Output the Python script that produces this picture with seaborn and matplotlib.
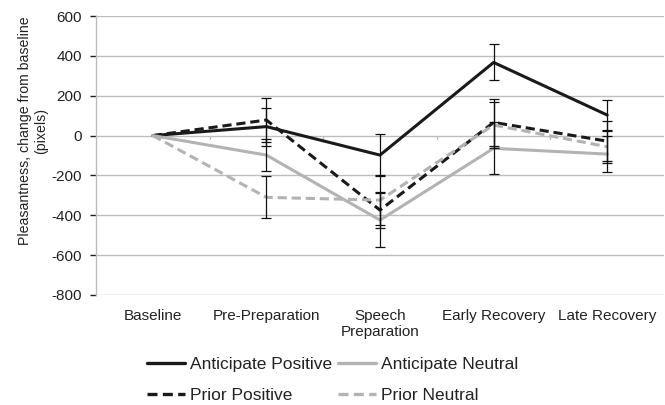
import numpy as np
import pandas as pd
import seaborn as sns
import matplotlib.pyplot as plt
from matplotlib.lines import Line2D

# data
phases = ["Baseline", "Pre-Preparation", "Speech\nPreparation", "Early Recovery", "Late Recovery"]
series_names = ["Anticipate Positive", "Prior Positive", "Anticipate Neutral", "Prior Neutral"]

anticipate_positive = [0, 45, -98, 367, 103]
anticipate_positive_err = [0, 95, 105, 90, 75]
prior_positive = [0, 78, -374, 66, -28]
prior_positive_err = [0, 109, 92, 120, 100]
anticipate_neutral = [0, -98, -424, -64, -93]
anticipate_neutral_err = [0, 81, 137, 130, 90]
prior_neutral = [0, -310, -324, 53, -56]
prior_neutral_err = [0, 105, 125, 115, 80]

values = [anticipate_positive, prior_positive, anticipate_neutral, prior_neutral]
errors = [anticipate_positive_err, prior_positive_err, anticipate_neutral_err, prior_neutral_err]

rows = []
for name, vals, errs in zip(series_names, values, errors):
    for i, (v, e) in enumerate(zip(vals, errs)):
        rows.append({"series": name, "pos": i, "value": v, "err": e})
df = pd.DataFrame(rows)

palette = {"Anticipate Positive": "#1a1a1a", "Prior Positive": "#1a1a1a",
           "Anticipate Neutral": "#b3b3b3", "Prior Neutral": "#b3b3b3"}
dashes = {"Anticipate Positive": "", "Prior Positive": (3, 1.6),
          "Anticipate Neutral": "", "Prior Neutral": (3, 1.6)}

sns.set_style("white")
plt.rcParams["font.family"] = ["Liberation Sans", "DejaVu Sans"]
plt.rcParams["axes.unicode_minus"] = False

fig = plt.figure(figsize=(6.65, 4.05), dpi=100)
ax = fig.add_axes([96 / 665, 1 - 295 / 405, 568 / 665, 279 / 405])

grid_c = "#bdbdbd"
for y in range(-800, 601, 200):
    ax.axhline(y, color=grid_c, lw=1.0, zorder=0)

sns.lineplot(data=df, x="pos", y="value", hue="series", style="series",
             palette=palette, dashes=dashes, linewidth=2.2, ax=ax,
             legend=False, zorder=3, sort=False)

# error bars
for name in series_names:
    sub = df[(df["series"] == name) & (df["err"] > 0)]
    ax.errorbar(sub["pos"], sub["value"], yerr=sub["err"], fmt="none",
                ecolor="#111111", elinewidth=0.9, capsize=3.5, capthick=0.9, zorder=4)

# category ticks on the zero line, between categories
for b in np.arange(0.5, len(phases) - 0.5, 1):
    ax.plot([b, b], [0, -18], color=grid_c, lw=1.0, zorder=1)

ax.set_xlim(-0.5, len(phases) - 0.5)
ax.set_ylim(-800, 600)
ax.set_yticks(range(-800, 601, 200))
ax.set_xticks(range(len(phases)))
ax.set_xticklabels(phases, fontsize=11, color="#222222", linespacing=1.2)
ax.tick_params(axis="x", length=0, pad=10)
ax.tick_params(axis="y", labelsize=11, colors="#222222", length=4, width=1,
               direction="out", left=True, pad=6)
for t in ax.get_yticklines():
    t.set_color(grid_c)
ax.set_xlabel("")
ax.set_ylabel("Pleasantness, change from baseline\n(pixels)", fontsize=10.2,
              color="#222222", linespacing=1.2)
ax.yaxis.set_label_coords(-0.085, 0.588)

for s in ["top", "right", "bottom"]:
    ax.spines[s].set_visible(False)
ax.spines["left"].set_color(grid_c)
ax.spines["left"].set_linewidth(1.0)

# legend
handles = []
for name in series_names:
    handles.append(Line2D([0], [0], color=palette[name], lw=2.4,
                          linestyle="-" if dashes[name] == "" else (0, dashes[name])))
fig.legend(handles, series_names, loc="lower center", bbox_to_anchor=(0.5, -0.033),
           ncol=2, frameon=False, fontsize=12.5, handlelength=2.2,
           handletextpad=0.3, columnspacing=0.3, labelspacing=0.9, labelcolor="#222222")

fig.savefig("out.png", dpi=100)
